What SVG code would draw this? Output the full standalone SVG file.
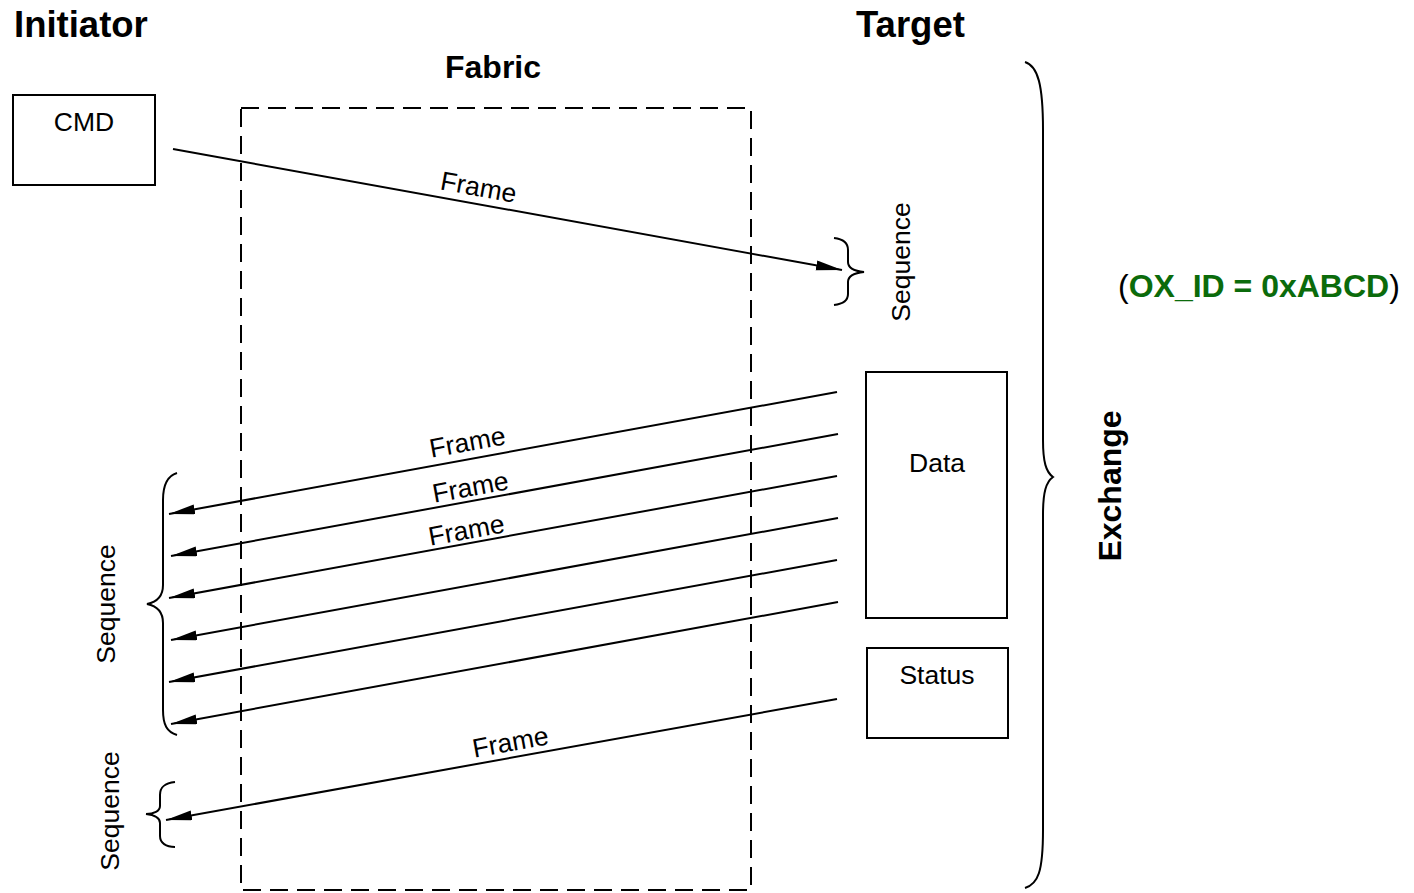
<svg xmlns="http://www.w3.org/2000/svg" width="1414" height="893" viewBox="0 0 1414 893">
  <defs>
    <marker id="arrow" markerUnits="userSpaceOnUse" markerWidth="28" markerHeight="12" refX="26" refY="5" orient="auto">
      <path d="M0,0 L26,5 L0,10 Z" fill="#000"/>
    </marker>
    <style>
      text { font-family: "Liberation Sans", Arial, Helvetica, sans-serif; fill: #000; }
      .hdr { font-size: 36.5px; font-weight: bold; }
      .sub { font-size: 32px; font-weight: bold; }
      .lbl { font-size: 26.5px; }
      .mid { text-anchor: middle; }
      .box { fill: #fff; stroke: #000; stroke-width: 2; }
      .brace { fill: none; stroke: #000; stroke-width: 2; }
      .msg { stroke: #000; stroke-width: 2; fill: none; marker-end: url(#arrow); }
      .fabric { fill: none; stroke: #000; stroke-width: 2; stroke-dasharray: 18 9; }
      .ox { fill: #0b6b0b; }
    </style>
  </defs>

  <rect width="1414" height="893" fill="#fff"/>

  <!-- column headings -->
  <text class="hdr" x="14" y="37">Initiator</text>
  <text class="hdr" x="856" y="37">Target</text>

  <!-- fabric region -->
  <g id="fabric">
    <rect class="fabric" x="241" y="108" width="510" height="782"/>
    <text class="sub mid" x="493" y="78">Fabric</text>
  </g>

  <g id="cmd">
    <rect class="box" x="13" y="95" width="142" height="90"/>
    <text class="lbl mid" x="84" y="131">CMD</text>
  </g>

  <g id="data">
    <rect class="box" x="866" y="372" width="141" height="246"/>
    <text class="lbl mid" x="937" y="472">Data</text>
  </g>

  <g id="status">
    <rect class="box" x="867" y="648" width="141" height="90"/>
    <text class="lbl mid" x="937" y="684">Status</text>
  </g>

  <!-- frames between initiator and target -->
  <g id="connectors">
    <line class="msg" x1="173" y1="149" x2="842" y2="270"/>
    <line class="msg" x1="837" y1="392" x2="169" y2="514"/>
    <line class="msg" x1="838" y1="434" x2="171" y2="556"/>
    <line class="msg" x1="837" y1="476" x2="169" y2="598"/>
    <line class="msg" x1="838" y1="518" x2="171" y2="640"/>
    <line class="msg" x1="837" y1="560" x2="169" y2="682"/>
    <line class="msg" x1="838" y1="602" x2="171" y2="724"/>
    <line class="msg" x1="837" y1="699" x2="166" y2="820"/>

    <text class="lbl mid" transform="translate(477,196) rotate(10.3)">Frame</text>
    <text class="lbl mid" transform="translate(469,451) rotate(-10.3)">Frame</text>
    <text class="lbl mid" transform="translate(472,496) rotate(-10.3)">Frame</text>
    <text class="lbl mid" transform="translate(468,539) rotate(-10.3)">Frame</text>
    <text class="lbl mid" transform="translate(512,751) rotate(-10.3)">Frame</text>
  </g>

  <!-- sequence groupings -->
  <g id="seq-cmd">
    <path class="brace" d="M834,238 C843,239 848,243 848,250 L848,262 C848,268 854,271 864,272 C854,273 848,276 848,282 L848,294 C848,301 843,304 834,305"/>
    <text class="lbl mid" transform="translate(910,262) rotate(-90)">Sequence</text>
  </g>

  <g id="seq-data">
    <path class="brace" d="M177,473 C167,476 163,485 163,500 L163,585 C163,596 157,602 147,604 C157,606 163,612 163,623 L163,710 C163,725 167,732 177,735"/>
    <text class="lbl mid" transform="translate(115,604) rotate(-90)">Sequence</text>
  </g>

  <g id="seq-status">
    <path class="brace" d="M175,782 C166,783 160,786 160,795 L160,806 C160,811 154,814 146,814 C154,815 160,818 160,823 L160,836 C160,843 166,847 175,847"/>
    <text class="lbl mid" transform="translate(119,811) rotate(-90)">Sequence</text>
  </g>

  <!-- whole exchange -->
  <g id="exchange">
    <path class="brace" d="M1025,62 C1038,66 1043,85 1043,130 L1043,440 C1043,462 1046,472 1053,477 C1046,482 1043,492 1043,515 L1043,830 C1043,872 1038,884 1025,888"/>
    <text class="sub mid" transform="translate(1121,486) rotate(-90)">Exchange</text>
    <text class="sub" x="1118" y="297"><tspan font-weight="normal">(</tspan><tspan class="ox">OX_ID = 0xABCD</tspan><tspan font-weight="normal">)</tspan></text>
  </g>
</svg>
